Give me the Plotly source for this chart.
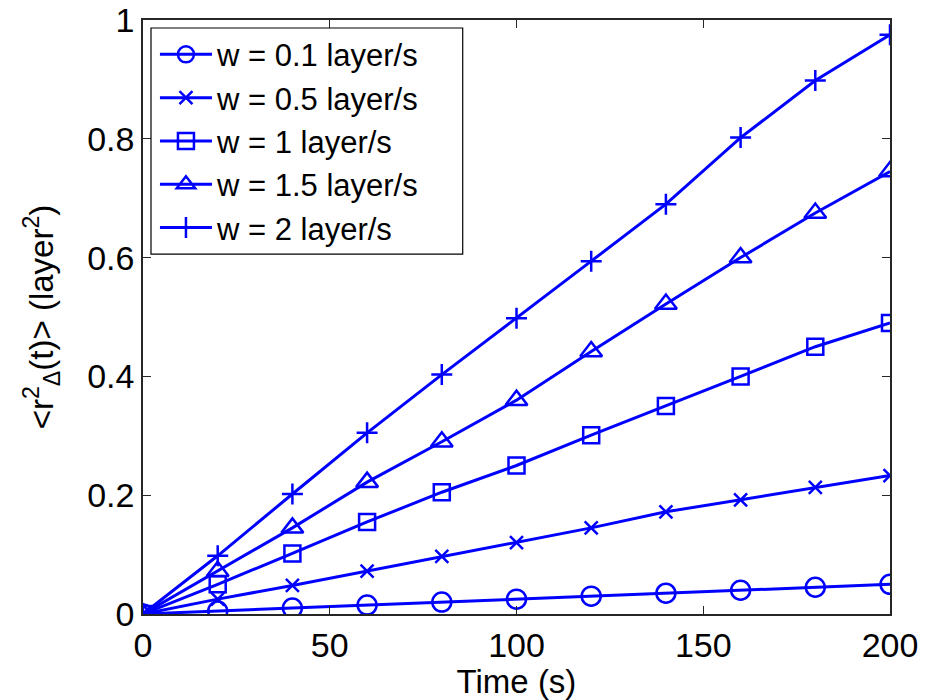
import plotly.graph_objects as go

# Time samples (s)
time_s = [0, 20, 40, 60, 80, 100, 120, 140, 160, 180, 200]

# Mean squared displacement for each growth rate (layer^2)
msd_w01 = [0, 0.005, 0.010, 0.015, 0.020, 0.025, 0.030, 0.035, 0.040, 0.045, 0.050]
msd_w05 = [0, 0.025, 0.048, 0.072, 0.097, 0.120, 0.145, 0.172, 0.192, 0.213, 0.233]
msd_w1 = [0, 0.050, 0.102, 0.155, 0.205, 0.250, 0.301, 0.350, 0.400, 0.450, 0.490]
msd_w15 = [0, 0.072, 0.145, 0.222, 0.290, 0.360, 0.442, 0.522, 0.600, 0.675, 0.745]
msd_w2 = [0, 0.098, 0.202, 0.305, 0.403, 0.498, 0.594, 0.690, 0.802, 0.898, 0.975]

series_names = ["w = 0.1 layer/s", "w = 0.5 layer/s", "w = 1 layer/s",
                "w = 1.5 layer/s", "w = 2 layer/s"]
series_values = [msd_w01, msd_w05, msd_w1, msd_w15, msd_w2]
series_symbols = ["circle-open", "x-thin-open", "square-open",
                  "triangle-up-open", "cross-thin-open"]
series_sizes = [19, 13, 16, 19, 15]

x_ticks = [0, 50, 100, 150, 200]
y_ticks = [0, 0.2, 0.4, 0.6, 0.8, 1]
y_tick_text = ["0", "0.2", "0.4", "0.6", "0.8", "1"]

BLUE = "#0000ff"
FONT = "Liberation Sans, Arial, sans-serif"

fig = go.Figure()
for name, vals, sym, sz in zip(series_names, series_values, series_symbols, series_sizes):
    fig.add_trace(go.Scatter(
        x=time_s, y=vals, name=name, mode="lines+markers",
        line=dict(color=BLUE, width=3),
        marker=dict(symbol=sym, size=sz, color=BLUE,
                    line=dict(color=BLUE, width=2.5)),
    ))

axis_common = dict(
    showgrid=False, zeroline=False, showline=True, mirror="ticks",
    linecolor="#262626", linewidth=1.5, ticks="inside", ticklen=8,
    tickwidth=1, tickcolor="#262626", automargin=False,
    tickfont=dict(family=FONT, size=34, color="black"),
)

# White framed box behind the legend entries (covers the curves underneath)
fig.add_shape(
    type="rect", xref="paper", yref="paper",
    x0=0.0107, x1=0.428, y0=0.606, y1=0.9865,
    fillcolor="white", line=dict(color="black", width=1.2), layer="above",
)

fig.update_layout(
    width=927, height=700,
    margin=dict(l=143, r=37, t=20, b=86),
    paper_bgcolor="white", plot_bgcolor="white",
    font=dict(family=FONT, color="black"),
    showlegend=True,
    legend=dict(
        x=0.016, y=0.987, xanchor="left", yanchor="top",
        bgcolor="rgba(0,0,0,0)", borderwidth=0,
        font=dict(family=FONT, size=31, color="black"),
        itemwidth=52,
    ),
    xaxis=dict(
        range=[0, 200], tickvals=x_ticks,
        title=dict(text="Time (s)", font=dict(family=FONT, size=33), standoff=0),
        ticklabelstandoff=0,
        **axis_common,
    ),
    yaxis=dict(
        range=[0, 1], tickvals=y_ticks, ticktext=y_tick_text,
        title=dict(text="&lt;r<sup>2</sup><sub>Δ</sub>(t)&gt; (layer<sup>2</sup>)",
                   font=dict(family=FONT, size=33), standoff=24),
        ticklabelstandoff=0,
        **axis_common,
    ),
)

fig.write_html("out.html")
